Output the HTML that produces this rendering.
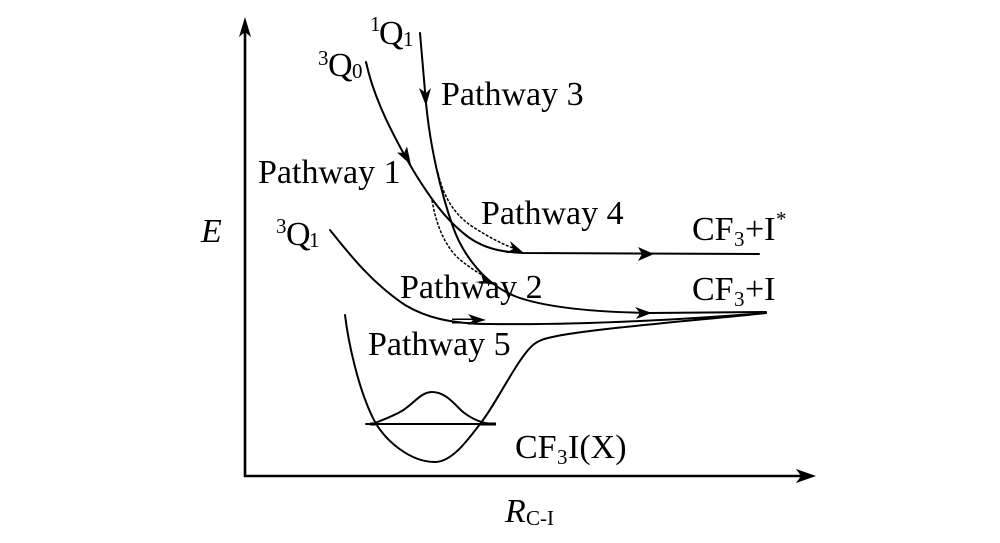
<!DOCTYPE html>
<html><head><meta charset="utf-8"><style>
html,body{margin:0;padding:0;background:#fff}
svg{display:block}
text{font-family:"Liberation Serif",serif;font-size:34px;fill:#000}
.s{font-size:21px}
.c{fill:none;stroke:#000;stroke-width:2;stroke-linecap:round}
.d{fill:none;stroke:#000;stroke-width:1.500;stroke-dasharray:3 1.500}
</style></head><body>
<svg width="1000" height="543" viewBox="0 0 1000 543" xmlns="http://www.w3.org/2000/svg">
<path class="c" style="stroke-width:2.600;stroke-linecap:butt" d="M245 25V476H806"/>
<path d="M245 17L239 37L245 32L251 37Z"/>
<path d="M816 476L796 469L801 476L796 483Z"/>

<path class="c" d="M420 33L426 103C430 145 440 190 453 227C463 255 485 285 517 297C545 307 590 312 650 313L766 312"/>
<path class="c" d="M366 62C372 90 385 122 413 170C430 198 445 218 462 232C480 248 500 252 523 253C570 253 620 254 759 254"/>
<path class="c" d="M330 230C350 255 372 283 405 305C425 317 450 324 490 324C560 325 650 322 766 313"/>
<path class="c" d="M345 315C348 340 358 390 375 422C386 441 410 462 435 462C452 462 468 440 483 420C498 400 518 358 533 345C540 339 548 338 557 336C600 328 700 320 766 313"/>
<path class="c" d="M375 423C385 419 393 416 400 412C412 406 420 392 432 392C446 392 455 405 463 412C472 419 482 424 495 424"/>
<path class="c" d="M366 424H495"/>
<path d="M370 422.500H377V425.500H370ZM480 422.500H496V425.500H480Z"/>
<path class="d" d="M432 200C436 225 445 245 457 257C467 266 477 272 487 278"/>
<path class="d" d="M438 173C442 190 450 212 473 227C487 236 500 243 513 248"/>

<path d="M426 106L419 88L426 93L431 88Z"/>
<path d="M411 165L397 152.500L404 153L407 146.500Z"/>
<path d="M524 253L510 241L513 249L506 253Z"/>
<path d="M654 254L638 247L642 254L638 261Z"/>
<path d="M652 313L635 307L640 313L636 319Z"/>
<path d="M486 320L468 314L473 320L468 325Z"/>
<path d="M496 285L481 274L483 281L475 282Z"/>
<path d="M452 318.500H476V320H452ZM452 322H476V323.500H452Z"/>

<text x="441" y="105">Pathway 3</text>
<text x="258" y="183">Pathway 1</text>
<text x="481" y="224">Pathway 4</text>
<text x="400" y="298">Pathway 2</text>
<text x="368" y="355">Pathway 5</text>
<text x="370" y="31" class="s">1</text><text x="379" y="44">Q</text><text x="403" y="46" class="s">1</text>
<text x="318" y="65" class="s">3</text><text x="328" y="76">Q</text><text x="352" y="78" class="s">0</text>
<text x="276" y="233" class="s">3</text><text x="286" y="245">Q</text><text x="309" y="247" class="s">1</text>
<text x="692" y="240">CF</text><text x="734" y="246" class="s">3</text><text x="745" y="240">+I</text><text x="776" y="226" class="s">*</text>
<text x="692" y="300">CF</text><text x="734" y="306" class="s">3</text><text x="745" y="300">+I</text>
<text x="515" y="458">CF</text><text x="557" y="464" class="s">3</text><text x="568" y="458">I(X)</text>
<text x="201" y="242" font-style="italic">E</text>
<text x="505" y="522" font-style="italic">R</text><text x="526" y="525" class="s">C-I</text>
</svg>
</body></html>
